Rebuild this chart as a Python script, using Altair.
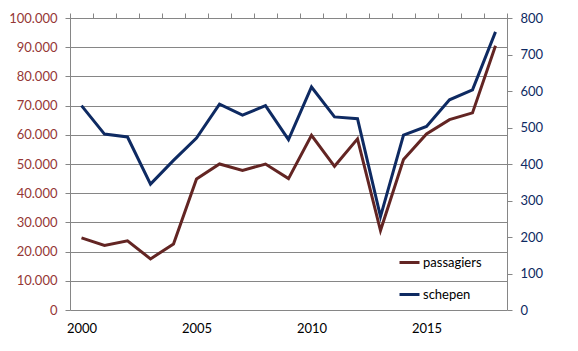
import altair as alt
import pandas as pd

years = list(range(2000, 2019))
passagiers = [24700, 22100, 23700, 17500, 22600, 44900, 50000, 47800, 50000, 45000,
              59800, 49200, 58600, 27200, 51500, 60300, 65200, 67500, 90500]
schepen = [560, 482, 474, 345, 410, 471, 564, 534, 560, 467,
           611, 529, 524, 256, 479, 503, 576, 603, 762]
series_names = ["passagiers", "schepen"]
series_colors = ["#632523", "#0E2A62"]
left_ticks = list(range(0, 100001, 10000))
right_ticks = list(range(0, 801, 100))
label_years = [2000, 2005, 2010, 2015]
tick_bounds = [y - 0.5 for y in range(2000, 2020)]

df = pd.DataFrame({"jaar": years, "passagiers": passagiers, "schepen": schepen})

FONT = "Lato"
xscale = alt.Scale(domain=[1999.5, 2018.5], nice=False, zero=False)
color = alt.Color("serie:N", scale=alt.Scale(domain=series_names, range=series_colors),
                  legend=alt.Legend(title=None, orient="none", legendX=328, legendY=233,
                                    symbolType="stroke", symbolStrokeWidth=3, symbolSize=400,
                                    labelFont=FONT, labelFontSize=13, labelColor="#000000",
                                    rowPadding=13, labelOffset=2))

base = alt.Chart(df)

p_line = base.transform_calculate(serie="'passagiers'").mark_line(strokeWidth=3).encode(
    x=alt.X("jaar:Q", scale=xscale,
            axis=alt.Axis(values=label_years, title=None, format="d", grid=False,
                          ticks=False, domain=False, labelFont=FONT, labelFontSize=13,
                          labelColor="#000000", labelPadding=12)),
    y=alt.Y("passagiers:Q", scale=alt.Scale(domain=[0, 100000], nice=False),
            axis=alt.Axis(values=left_ticks, title=None, orient="left",
                          labelExpr="replace(format(datum.value, ','), ',', '.')",
                          gridColor="#868686", gridWidth=1, domainColor="#868686",
                          tickColor="#868686", tickSize=5, labelPadding=8,
                          labelFont=FONT, labelFontSize=13, labelColor="#953735")),
    color=color,
)

s_line = base.transform_calculate(serie="'schepen'").mark_line(strokeWidth=3).encode(
    x=alt.X("jaar:Q", scale=xscale,
            axis=alt.Axis(values=tick_bounds, title=None, labels=False, grid=False,
                          domainColor="#868686", tickColor="#868686", tickSize=5)),
    y=alt.Y("schepen:Q", scale=alt.Scale(domain=[0, 800], nice=False),
            axis=alt.Axis(values=right_ticks, title=None, orient="right", grid=False,
                          domainColor="#868686", tickColor="#868686", tickSize=5,
                          labelPadding=8, labelFont=FONT, labelFontSize=13,
                          labelColor="#0E2A62")),
    color=color,
)

chart = alt.layer(p_line, s_line).resolve_scale(y="independent").resolve_axis(
    x="independent"
).properties(
    width=437, height=292,
    autosize=alt.AutoSizeParams(type="none"),
    padding={"left": 70, "top": 18, "right": 71, "bottom": 41},
).configure_view(stroke=None)

chart.save("out.html", embed_options={"renderer": "svg", "actions": False})
